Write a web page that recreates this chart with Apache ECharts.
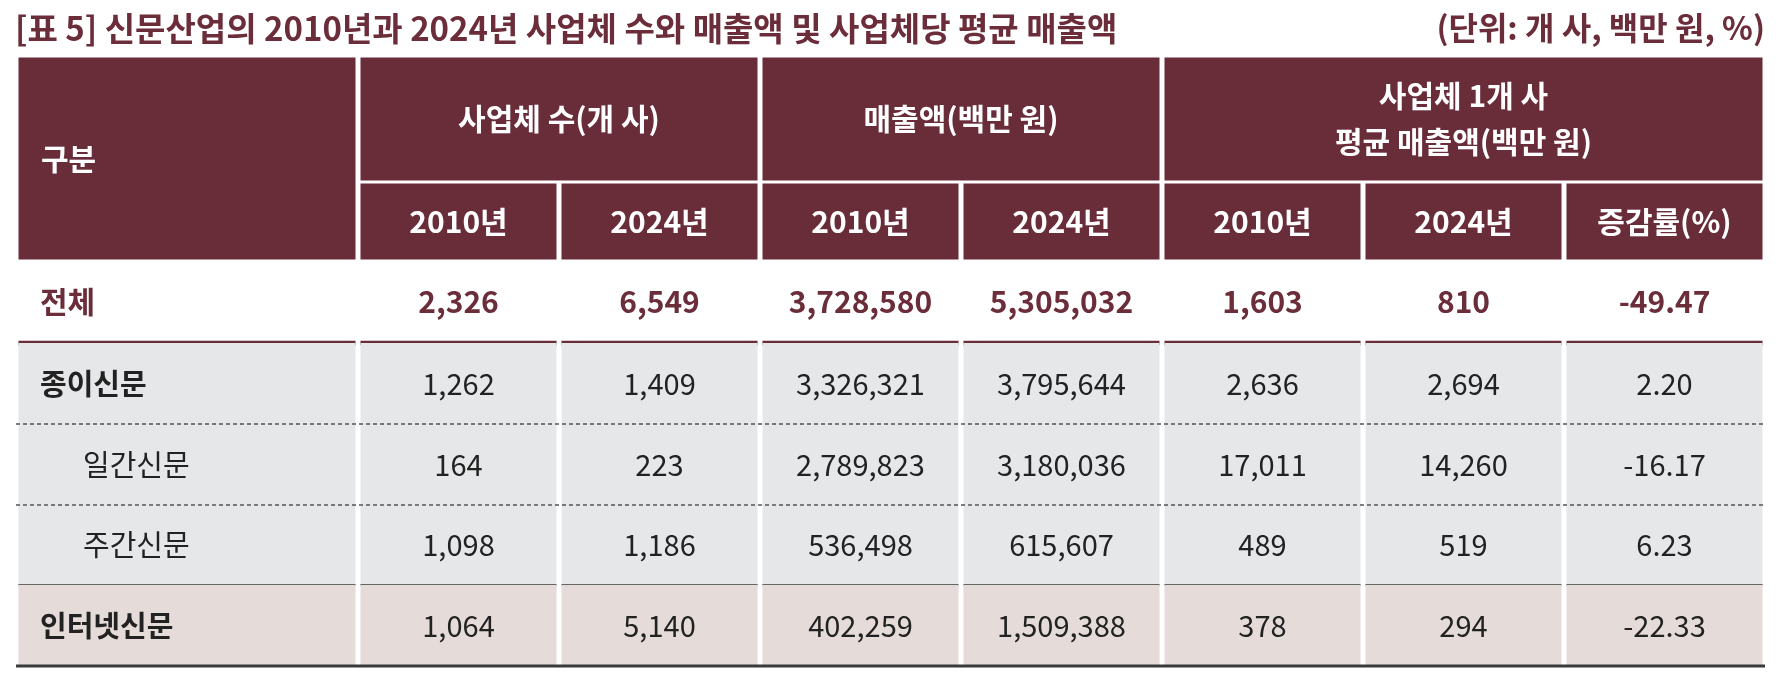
<!DOCTYPE html>
<html>
<head>
<meta charset="utf-8">
<title>신문산업 사업체 수와 매출액</title>
<script src="https://cdn.jsdelivr.net/npm/echarts@6.0.0/dist/echarts.min.js"></script>
<style>
    html, body { margin: 0; padding: 0; background: #fff; }
    #main { width: 1779px; height: 694px; }
</style>
</head>
<body>
<div id="main"></div>
<script type="text/javascript">
    // 표 데이터
    var tableTitle = '[표 5] 신문산업의 2010년과 2024년 사업체 수와 매출액 및 사업체당 평균 매출액';
    var unitText = '(단위: 개 사, 백만 원, %)';
    var cornerHeader = '구분';
    var groupHeaders = ['사업체 수(개 사)', '매출액(백만 원)', '사업체 1개 사\n평균 매출액(백만 원)'];
    var groupSpans = [2, 2, 3];
    var subHeaders = ['2010년', '2024년', '2010년', '2024년', '2010년', '2024년', '증감률(%)'];
    var categories = ['전체', '종이신문', '일간신문', '주간신문', '인터넷신문'];
    var subLevel = [0, 0, 1, 1, 0];
    var firms2010 = [2326, 1262, 164, 1098, 1064];
    var firms2024 = [6549, 1409, 223, 1186, 5140];
    var sales2010 = [3728580, 3326321, 2789823, 536498, 402259];
    var sales2024 = [5305032, 3795644, 3180036, 615607, 1509388];
    var avg2010 = [1603, 2636, 17011, 489, 378];
    var avg2024 = [810, 2694, 14260, 519, 294];
    var changeRate = [-49.47, 2.20, -16.17, 6.23, -22.33];

    // 레이아웃
    var FONT = '"Noto Sans CJK KR", "Noto Sans", sans-serif';
    var MAROON = '#682d39';
    var colW = [342, 201, 201, 201, 201, 201, 201, 201];
    var rowH = [126, 79, 82, 81, 81, 80, 81];
    var colX = [0], rowY = [0];
    colW.forEach(function (w) { colX.push(colX[colX.length - 1] + w); });
    rowH.forEach(function (h) { rowY.push(rowY[rowY.length - 1] + h); });
    var totalW = colX[colX.length - 1], totalH = rowY[rowY.length - 1];

    function fmt(v) { return v.toLocaleString('en-US'); }
    function fmtRate(v) { return v.toFixed(2); }

    var kindStyle = {
        head:  { fill: MAROON, insetY: 1.5, color: '#fff', weight: 'bold', size: 30 },
        total: { fill: null, insetY: 0, color: '#6b2d3a', weight: 'bold', size: 30, rule: { w: 4.5, color: MAROON } },
        gray:  { fill: '#e6e7e9', insetY: 0, color: '#222', weight: 'normal', size: 29 },
        grayLast: { fill: '#e6e7e9', insetY: 0, color: '#222', weight: 'normal', size: 29, rule: { w: 2, color: '#666' } },
        pink:  { fill: '#e5dbd9', insetY: 0, color: '#222', weight: 'normal', size: 29 }
    };

    // 셀 목록
    var cells = [];
    cells.push({ x0: colX[0], x1: colX[1], y0: rowY[0], y1: rowY[2], kind: 'head', text: cornerHeader, left: 25 });
    var c = 1;
    groupHeaders.forEach(function (g, i) {
        cells.push({ x0: colX[c], x1: colX[c + groupSpans[i]], y0: rowY[0], y1: rowY[1], kind: 'head', text: g });
        c += groupSpans[i];
    });
    subHeaders.forEach(function (s, i) {
        cells.push({ x0: colX[i + 1], x1: colX[i + 2], y0: rowY[1], y1: rowY[2], kind: 'head', text: s });
    });
    categories.forEach(function (name, r) {
        var kind;
        if (r === 0) kind = 'total';
        else if (name === '인터넷신문') kind = 'pink';
        else kind = (categories[r + 1] === '인터넷신문') ? 'grayLast' : 'gray';
        var y0 = rowY[r + 2], y1 = rowY[r + 3];
        var vals = [fmt(firms2010[r]), fmt(firms2024[r]), fmt(sales2010[r]), fmt(sales2024[r]),
                    fmt(avg2010[r]), fmt(avg2024[r]), fmtRate(changeRate[r])];
        cells.push({ x0: colX[0], x1: colX[1], y0: y0, y1: y1, kind: kind, text: name,
                     left: subLevel[r] ? 67 : 24, bold: subLevel[r] === 0 });
        vals.forEach(function (v, i) {
            cells.push({ x0: colX[i + 1], x1: colX[i + 2], y0: y0, y1: y1, kind: kind, text: v });
        });
    });

    var rules = [
        { y: rowY[4], dotted: true },
        { y: rowY[5], dotted: true },
        { y: rowY[7], dotted: false }
    ];

    function renderCell(params, api) {
        var cell = cells[params.dataIndex];
        var p0 = api.coord([cell.x0, cell.y0]);
        var p1 = api.coord([cell.x1, cell.y1]);
        var x = p0[0], y = p0[1], w = p1[0] - p0[0], h = p1[1] - p0[1];
        var st = kindStyle[cell.kind];
        var gx = 2.5;
        var children = [];
        if (st.fill) {
            children.push({ type: 'rect', shape: { x: x + gx, y: y + st.insetY, width: w - 2 * gx, height: h - 2 * st.insetY },
                            style: { fill: st.fill } });
        }
        if (st.rule) {
            children.push({ type: 'rect', shape: { x: x + gx, y: y + h - st.rule.w / 2, width: w - 2 * gx, height: st.rule.w },
                            style: { fill: st.rule.color } });
        }
        var isLeft = cell.left != null;
        var weight = st.weight;
        if (cell.bold != null && cell.kind !== 'total') weight = cell.bold ? 'bold' : 'normal';
        children.push({
            type: 'text',
            style: {
                text: cell.text,
                x: isLeft ? x + cell.left : x + w / 2,
                y: y + h / 2,
                align: isLeft ? 'left' : 'center',
                verticalAlign: 'middle',
                fill: st.color,
                fontFamily: FONT,
                fontSize: st.size,
                fontWeight: weight,
                lineHeight: 46
            }
        });
        return { type: 'group', children: children };
    }

    function renderRule(params, api) {
        var r = rules[params.dataIndex];
        var a = api.coord([0, r.y]);
        var b = api.coord([totalW, r.y]);
        return {
            type: 'line',
            shape: { x1: a[0], y1: a[1], x2: b[0], y2: b[1] },
            style: r.dotted
                ? { stroke: '#555', lineWidth: 1.5, lineDash: [4, 3] }
                : { stroke: '#3a3a3a', lineWidth: 3 }
        };
    }

    var myChart = echarts.init(document.getElementById('main'));
    myChart.setOption({
        animation: false,
        title: [{
            text: tableTitle,
            left: 15,
            top: 9,
            padding: 0,
            textStyle: { fontFamily: FONT, fontSize: 33, fontWeight: 'bold', color: '#6b2d3a', lineHeight: 38 }
        }, {
            text: unitText,
            right: 14,
            top: 9,
            padding: 0,
            textStyle: { fontFamily: FONT, fontSize: 32, fontWeight: 'bold', color: '#6b2d3a', lineHeight: 38 }
        }],
        grid: { left: 16, top: 56, width: totalW, height: totalH },
        xAxis: { type: 'value', min: 0, max: totalW, show: false },
        yAxis: { type: 'value', min: 0, max: totalH, inverse: true, show: false },
        series: [{
            type: 'custom',
            renderItem: renderCell,
            encode: { x: [0, 2], y: [1, 3] },
            data: cells.map(function (d) { return [d.x0, d.y0, d.x1, d.y1]; }),
            z: 2,
            silent: true
        }, {
            type: 'custom',
            renderItem: renderRule,
            encode: { y: 0 },
            data: rules.map(function (r) { return [r.y]; }),
            z: 3,
            silent: true
        }]
    });
</script>
</body>
</html>
